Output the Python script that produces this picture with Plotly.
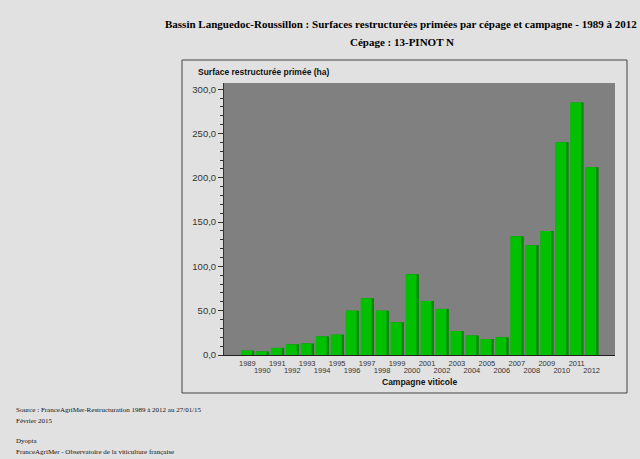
import plotly.graph_objects as go

years = [str(y) for y in range(1989, 2013)]
surfaces = [5, 4, 8, 12, 13, 21, 23, 50, 64, 50, 37, 91, 61, 52, 27, 22, 18, 20,
            134, 124, 140, 240, 285, 212]
odd_years = [y for y in years if int(y) % 2 == 1]
even_years = [y for y in years if int(y) % 2 == 0]

W, H = 640, 459
L, R, T, B = 224, 25, 83, 104
pw, ph = W - L - R, H - T - B

def px(x):
    return (x - L) / pw

def py(y):
    return (H - B - y) / ph

fig = go.Figure()
# darker side face for a slight 3D look
fig.add_trace(go.Bar(x=years, y=surfaces, width=0.86, offset=-0.4,
                     marker=dict(color="#008a00", line=dict(width=0)),
                     hoverinfo="skip", showlegend=False))
fig.add_trace(go.Bar(x=years, y=surfaces, width=0.73, offset=-0.43,
                     marker=dict(color="#00c000", line=dict(width=0)),
                     showlegend=False))
# invisible trace to carry the second (lower) row of year labels
fig.add_trace(go.Scatter(x=years, y=surfaces, xaxis="x2", mode="markers",
                         marker=dict(opacity=0), hoverinfo="skip", showlegend=False))

tickfont = dict(size=7.5, color="#333333")
serif = "Liberation Serif, Times New Roman"
fig.update_layout(
    width=W, height=H,
    margin=dict(l=L, r=R, t=T, b=B),
    paper_bgcolor="#e1e1e1", plot_bgcolor="#808080",
    barmode="overlay", separators=", ",
    font=dict(family="Liberation Sans, Arial", size=9, color="#333333"),
    xaxis=dict(type="category", categoryorder="array", categoryarray=years,
               tickmode="array", tickvals=odd_years, ticktext=odd_years,
               showgrid=False, showline=True, linecolor="#222222", linewidth=1,
               ticks="", tickfont=tickfont, tickangle=0, ticklabelstandoff=1,
               fixedrange=True),
    xaxis2=dict(type="category", categoryorder="array", categoryarray=years,
                matches="x", overlaying="x", side="bottom",
                tickmode="array", tickvals=even_years, ticktext=even_years,
                showgrid=False, showline=False, ticks="", tickfont=tickfont,
                tickangle=0, ticklabelstandoff=9),
    yaxis=dict(range=[0, 307], tickmode="linear", tick0=0, dtick=50, tickformat=".1f",
               showgrid=False, zeroline=False, showline=True, linecolor="#333333",
               ticks="outside", ticklen=5, tickcolor="#333333",
               minor=dict(dtick=10, ticks="outside", ticklen=3, tickcolor="#333333"),
               tickfont=dict(size=9.5, color="#333333")),
    shapes=[dict(type="rect", xref="paper", yref="paper",
                 x0=px(182), x1=px(627), y0=py(393), y1=py(60),
                 line=dict(color="#444444", width=1), layer="below")],
    annotations=[
        dict(text="<b>Bassin Languedoc-Roussillon : Surfaces restructurées primées par cépage et campagne - 1989 à 2012</b>",
             xref="paper", yref="paper", x=px(401), y=py(24), xanchor="center", yanchor="middle",
             showarrow=False, font=dict(family=serif, size=11, color="#000000")),
        dict(text="<b>Cépage : 13-PINOT N</b>",
             xref="paper", yref="paper", x=px(402), y=py(42), xanchor="center", yanchor="middle",
             showarrow=False, font=dict(family=serif, size=11, color="#000000")),
        dict(text="<b>Surface restructurée primée (ha)</b>",
             xref="paper", yref="paper", x=px(196), y=py(72), xanchor="left", yanchor="middle",
             showarrow=False, font=dict(size=8.5, color="#111111")),
        dict(text="<b>Campagne viticole</b>",
             xref="paper", yref="paper", x=px(419), y=py(382), xanchor="center", yanchor="middle",
             showarrow=False, font=dict(size=8.5, color="#111111")),
        dict(text="Source : FranceAgriMer-Restructuration 1989 à 2012 au 27/01/15",
             xref="paper", yref="paper", x=px(14), y=py(410), xanchor="left", yanchor="middle",
             showarrow=False, font=dict(family=serif, size=7, color="#111111")),
        dict(text="Février 2015",
             xref="paper", yref="paper", x=px(14), y=py(421), xanchor="left", yanchor="middle",
             showarrow=False, font=dict(family=serif, size=7, color="#111111")),
        dict(text="Dyopta",
             xref="paper", yref="paper", x=px(14), y=py(441), xanchor="left", yanchor="middle",
             showarrow=False, font=dict(family=serif, size=7, color="#111111")),
        dict(text="FranceAgriMer - Observatoire de la viticulture française",
             xref="paper", yref="paper", x=px(14), y=py(452), xanchor="left", yanchor="middle",
             showarrow=False, font=dict(family=serif, size=7, color="#111111")),
    ],
)

fig.write_html("out.html", config={"displayModeBar": False},
               post_script="document.body.style.margin='0';document.body.style.background='#e1e1e1';")
